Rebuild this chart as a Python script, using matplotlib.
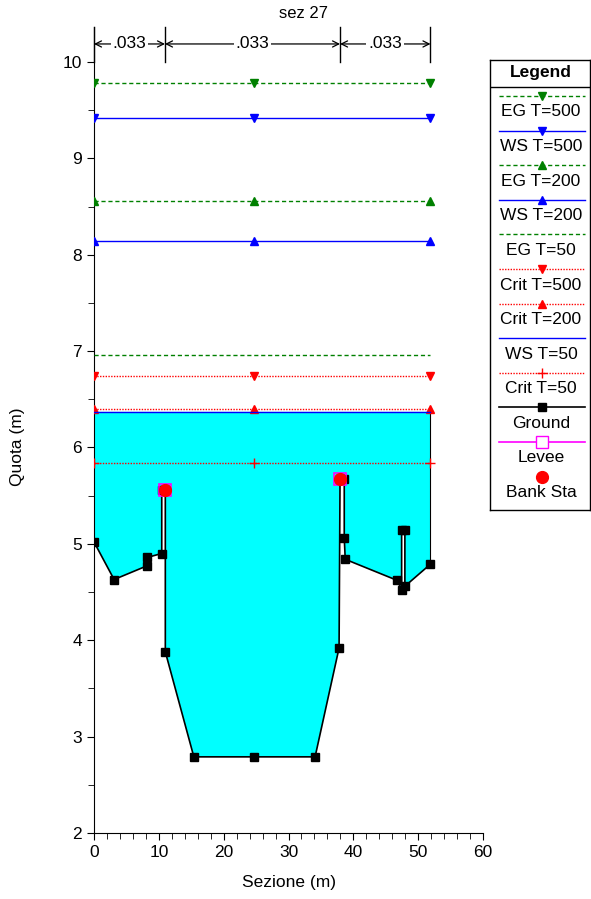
import matplotlib
matplotlib.use("Agg")
import matplotlib.pyplot as plt
from matplotlib.patches import Polygon
from matplotlib.ticker import MultipleLocator

plt.rcParams['font.family'] = ['Liberation Sans', 'DejaVu Sans']

# ---------------- data ----------------
title = "sez 27"
ground_x = [0, 3.1, 8.1, 8.25, 10.45, 10.45, 11.0, 11.0, 15.4, 24.7, 34.1, 37.8,
            37.95, 38.6, 38.6, 38.75, 46.8, 47.45, 47.45, 47.95, 47.95, 51.9]
ground_y = [5.02, 4.63, 4.77, 4.86, 4.90, 5.56, 5.56, 3.88, 2.79, 2.79, 2.79, 3.92,
            5.67, 5.67, 5.06, 4.84, 4.62, 4.52, 5.14, 5.14, 4.56, 4.79]
bank_x = [10.95, 37.95]
bank_y = [5.56, 5.67]
n_bounds = [0, 10.95, 37.95, 51.9]
n_values = [".033", ".033", ".033"]
line_x = [0, 24.7, 51.9]

series_names = ["EG T=500", "WS T=500", "EG T=200", "WS T=200", "EG T=50",
                "Crit T=500", "Crit T=200", "WS T=50", "Crit T=50"]
series_levels = [9.78, 9.42, 8.56, 8.14, 6.96, 6.74, 6.40, 6.37, 5.84]
ws_fill_level = 6.37

# styles (not data)
GREEN, BLUE, RED = "#008000", "#0000ff", "#ff0000"
series_styles = [
    dict(color=GREEN, ls=(0, (3, 2)), marker="v"),
    dict(color=BLUE, ls="-", marker="v"),
    dict(color=GREEN, ls=(0, (3, 2)), marker="^"),
    dict(color=BLUE, ls="-", marker="^"),
    dict(color=GREEN, ls=(0, (3, 2)), marker=None),
    dict(color=RED, ls=(0, (1, 1)), marker="v"),
    dict(color=RED, ls=(0, (1, 1)), marker="^"),
    dict(color=BLUE, ls="-", marker=None),
    dict(color=RED, ls=(0, (1, 1)), marker="+"),
]

FS = 12.5
W, H = 591, 899
fig = plt.figure(figsize=(W / 100, H / 100), dpi=100)
ax_l, ax_r, ax_t, ax_b = 94, 483, 27, 833
ax = fig.add_axes([ax_l / W, 1 - ax_b / H, (ax_r - ax_l) / W, (ax_b - ax_t) / H])
ax.set_xlim(0, 60)
ax.set_ylim(2, 10.363)

# water fill
poly_pts = [(ground_x[0], ws_fill_level)] + list(zip(ground_x, ground_y)) + [(ground_x[-1], ws_fill_level)]
ax.add_patch(Polygon(poly_pts, closed=True, facecolor="#00ffff", edgecolor="none", zorder=1))
ax.plot([ground_x[-1], ground_x[-1]], [ground_y[-1], ws_fill_level], color="black", lw=0.8, zorder=2)

# level lines
for name, lev, st in zip(series_names, series_levels, series_styles):
    ax.plot(line_x, [lev] * len(line_x), color=st["color"], ls=st["ls"], lw=1.0,
            marker=st["marker"], markersize=6 if st["marker"] != "+" else 7,
            markeredgewidth=1.0, zorder=3)

# ground
ax.plot(ground_x, ground_y, color="black", lw=1.2, marker="s", markersize=5.5, zorder=4)
# levee + bank stations
ax.plot(bank_x, bank_y, ls="none", marker="s", markersize=9, markerfacecolor="none",
        markeredgecolor="#ff00ff", markeredgewidth=1.2, zorder=5)
ax.plot(bank_x, bank_y, ls="none", marker="o", markersize=8.5, color=RED, zorder=6)

# Manning's n annotations
y_arrow = 10.187
for b in n_bounds:
    ax.plot([b, b], [10.0, 10.363], color="black", lw=1.0, clip_on=False, zorder=5)
for i, nv in enumerate(n_values):
    x0, x1 = n_bounds[i], n_bounds[i + 1]
    xm = (x0 + x1) / 2
    for xe in (x0, x1):
        ax.annotate("", xy=(xe, y_arrow), xytext=(xm, y_arrow),
                    arrowprops=dict(arrowstyle="->", lw=0.9, shrinkA=0, shrinkB=0,
                                    mutation_scale=11), annotation_clip=False)
    ax.text(xm, y_arrow, nv, ha="center", va="center", fontsize=FS,
            bbox=dict(facecolor="white", edgecolor="none", pad=1.5), zorder=6)

fig.text(304 / W, 1 - 13 / H, title, ha="center", va="center", fontsize=12)

# axes styling
for s in ["top", "right"]:
    ax.spines[s].set_visible(False)
ax.xaxis.set_major_locator(MultipleLocator(10))
ax.xaxis.set_minor_locator(MultipleLocator(2))
ax.yaxis.set_major_locator(MultipleLocator(1))
ax.yaxis.set_minor_locator(MultipleLocator(0.5))
ax.tick_params(which="major", direction="out", length=5, labelsize=FS)
ax.tick_params(which="minor", direction="out", length=4)
ax.set_yticks(range(2, 11))
ax.set_xlabel("Sezione (m)", fontsize=FS)
ax.set_ylabel("Quota (m)", fontsize=FS)
ax.xaxis.set_label_coords(0.5, -0.052)
ax.yaxis.set_label_coords(-0.178, (ax_b - 447) / (ax_b - ax_t))

# ---------------- legend box ----------------
lg_l, lg_r, lg_t, lg_b = 490, 590, 60, 510
lax = fig.add_axes([lg_l / W, 1 - lg_b / H, (lg_r - lg_l) / W, (lg_b - lg_t) / H])
lax.set_xlim(lg_l, lg_r)
lax.set_ylim(lg_b, lg_t)
lax.set_xticks([])
lax.set_yticks([])
for s in lax.spines.values():
    s.set_linewidth(1.0)
lax.text(541, 73, "Legend", ha="center", va="center", fontsize=FS, fontweight="bold")
lax.plot([lg_l, lg_r], [87, 87], color="black", lw=1.0)

legend_names = series_names + ["Ground", "Levee", "Bank Sta"]
legend_styles = series_styles + [
    dict(color="black", ls="-", marker="s"),
    dict(color="#ff00ff", ls="-", marker="s"),
    dict(color=RED, ls="none", marker="o"),
]
step = 34.6
for i, (nm, st) in enumerate(zip(legend_names, legend_styles)):
    yl = 96 + i * step
    lx = [499, 542, 585]
    if nm == "Levee":
        lax.plot(lx, [yl] * 3, color=st["color"], lw=1.2, markevery=[1], marker="s",
                 markersize=9, markerfacecolor="white", markeredgecolor="#ff00ff")
    elif nm == "Bank Sta":
        lax.plot([542], [yl], ls="none", marker="o", markersize=8.5, color=RED)
    elif nm == "Ground":
        lax.plot(lx, [yl] * 3, color="black", lw=1.2, markevery=[1], marker="s", markersize=5.5)
    else:
        lax.plot(lx, [yl] * 3, color=st["color"], ls=st["ls"], lw=1.0, markevery=[1],
                 marker=st["marker"], markersize=6 if st["marker"] != "+" else 7)
    lax.text(541, yl + 16, nm, ha="center", va="center", fontsize=FS)

fig.savefig("out.png", dpi=100)
